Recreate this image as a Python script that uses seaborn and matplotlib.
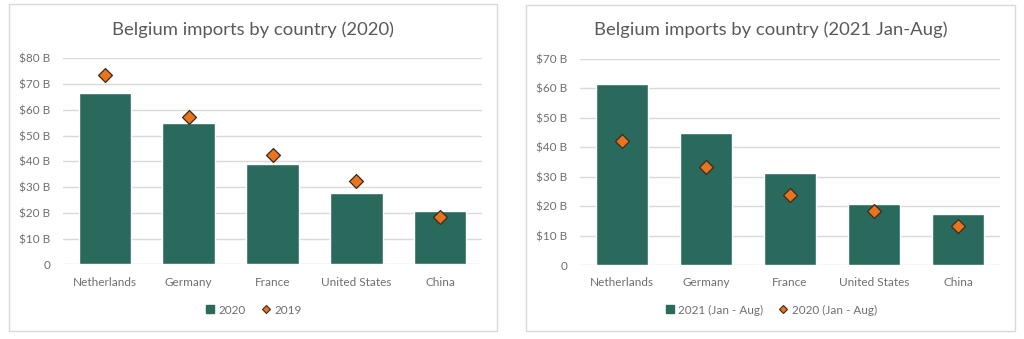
import matplotlib
matplotlib.use("Agg")
import matplotlib.pyplot as plt
from matplotlib.patches import Rectangle
from matplotlib.lines import Line2D
from matplotlib.ticker import FuncFormatter, MultipleLocator
import seaborn as sns
import pandas as pd

# Import values in billions of US dollars
countries = ["Netherlands", "Germany", "France", "United States", "China"]
imports_2020 = [66.5, 54.8, 38.8, 27.7, 20.7]
imports_2019 = [73.4, 57.2, 42.6, 32.5, 18.5]
imports_2021_janaug = [61.6, 44.7, 31.4, 20.6, 17.3]
imports_2020_janaug = [42.0, 33.4, 23.7, 18.2, 13.1]

BAR = "#2a6a5c"
DIAMOND = "#e8741f"
EDGE = "#3b2a1c"
GRID = "#d9d9d9"
TICK = "#6f6f6f"
TITLE = "#595959"

sns.set_theme(style="white")
plt.rcParams["font.family"] = ["Lato", "DejaVu Sans"]

fig = plt.figure(figsize=(10.24, 3.39), dpi=100)
W, H = 1024, 339


def fx(px):
    return px / W


def fy(py):
    return 1 - py / H


def billions(v, _):
    return "0" if v == 0 else f"${v:.0f} B"


def panel(rect_px, box_px, bars, points, bar_label, point_label, ymax, title):
    x0, x1, ytop, ybot = rect_px
    ax = fig.add_axes([fx(x0), fy(ybot), fx(x1 - x0), (ybot - ytop) / H])
    df = pd.DataFrame({"country": countries, "bar": bars, "point": points})
    sns.barplot(data=df, x="country", y="bar", color=BAR, width=0.63,
                saturation=1, ax=ax, zorder=2)
    sns.scatterplot(data=df, x="country", y="point", marker="D", s=50,
                    color=DIAMOND, edgecolor=EDGE, linewidth=0.9, ax=ax,
                    zorder=3)
    ax.set_xlim(-0.5, len(countries) - 0.5)
    ax.set_ylim(0, ymax)
    ax.yaxis.set_major_locator(MultipleLocator(10))
    ax.yaxis.set_major_formatter(FuncFormatter(billions))
    ax.grid(axis="y", color=GRID, linewidth=1, zorder=0)
    ax.set_axisbelow(True)
    for s in ["top", "right", "left", "bottom"]:
        ax.spines[s].set_visible(False)
    ax.tick_params(axis="both", length=0, labelsize=8.5, labelcolor=TICK)
    ax.tick_params(axis="y", pad=9)
    ax.tick_params(axis="x", pad=9)
    ax.set_xlabel("")
    ax.set_ylabel("")
    ax.set_facecolor("white")

    bx0, by0, bx1, by1 = box_px
    fig.add_artist(Rectangle((fx(bx0), fy(by1)), fx(bx1 - bx0), (by1 - by0) / H,
                             transform=fig.transFigure, fill=False,
                             edgecolor=GRID, linewidth=1))
    cx = fx((bx0 + bx1) / 2)
    fig.text(cx, fy(30), title, ha="center", va="center", fontsize=13.3,
             color=TITLE)
    handles = [
        Line2D([], [], marker="s", linestyle="none", markersize=6,
               markerfacecolor=BAR, markeredgecolor=BAR),
        Line2D([], [], marker="D", linestyle="none", markersize=4.5,
               markerfacecolor=DIAMOND, markeredgecolor=EDGE,
               markeredgewidth=0.8),
    ]
    fig.legend(handles, [bar_label, point_label], loc="center",
               bbox_to_anchor=(cx, fy(310)), ncol=2, frameon=False,
               fontsize=8.5, labelcolor=TICK, handletextpad=0.2,
               columnspacing=1.2, handlelength=1.0)
    return ax


panel((63, 482, 58.3, 264.3), (9, 4, 497, 331), imports_2020, imports_2019,
      "2020", "2019", 80, "Belgium imports by country (2020)")
panel((580, 1000, 59, 265), (526, 5, 1015, 331), imports_2021_janaug,
      imports_2020_janaug, "2021 (Jan - Aug)", "2020 (Jan - Aug)", 70,
      "Belgium imports by country (2021 Jan-Aug)")

fig.savefig("out.png", dpi=100, facecolor="white")
